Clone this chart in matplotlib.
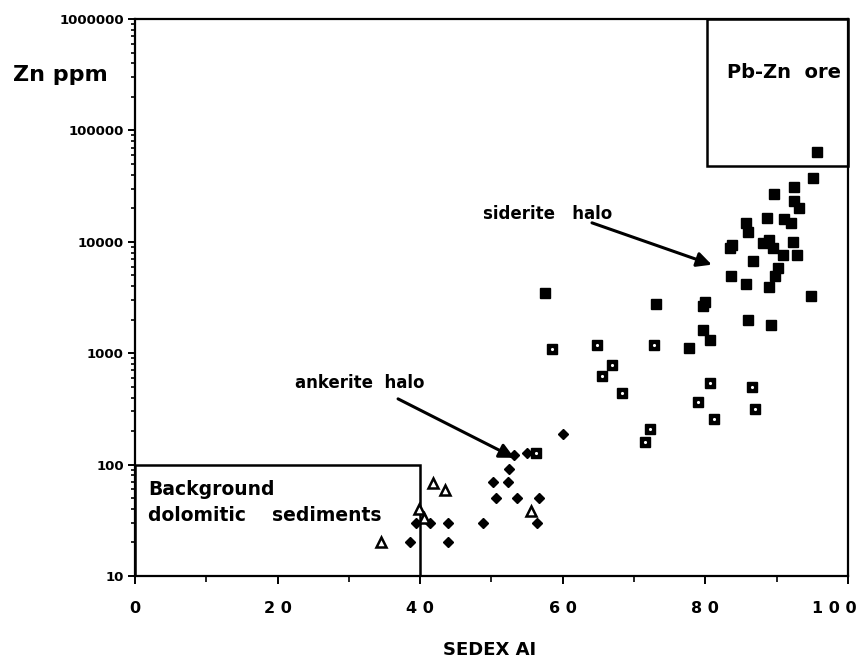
import matplotlib
matplotlib.use("Agg")
import matplotlib.pyplot as plt
from matplotlib.ticker import LogLocator, FixedLocator, NullFormatter, FixedFormatter
from matplotlib.patches import Rectangle
from matplotlib.transforms import ScaledTranslation

# ---- data ----
# siderite halo: filled squares
sid_x = [57.5, 73.1, 77.7, 79.7, 80.6, 80.0, 79.7, 83.6, 85.7, 86.0, 86.7,
         95.6, 95.1, 92.4, 89.6, 92.4, 93.1, 88.6, 91.0, 92.0, 85.7, 86.0,
         92.3, 88.9, 88.1, 83.7, 83.5, 89.5, 90.9, 92.8, 90.2, 89.8, 88.9,
         94.8, 89.2]
sid_y = [3480, 2780, 1120, 1630, 1320, 2900, 2650, 4950, 4200, 2000, 6700,
         64500, 37700, 31300, 27000, 23400, 20200, 16500, 16100, 14800, 14800, 12300,
         10000, 10400, 9800, 9400, 8800, 8800, 7660, 7660, 5850, 4950, 3950,
         3280, 1800]
# patterned squares
pat_x = [58.5, 64.8, 72.8, 66.9, 65.5, 68.3, 56.2, 72.3, 71.5, 80.6, 79.0,
         81.2, 86.5, 87.0]
pat_y = [1100, 1190, 1190, 787, 627, 440, 127, 209, 160, 542, 366,
         257, 500, 316]
# ankerite halo: filled diamonds
ank_x = [38.6, 39.4, 41.4, 43.9, 43.9, 48.8, 56.4, 50.6, 53.6, 56.7, 50.2,
         52.3, 52.5, 53.2, 55.0, 60.0]
ank_y = [20, 30, 30, 30, 20, 30, 30, 50, 50, 50, 70,
         70, 91, 122, 127, 189]
# background dolomite: open triangles
bg_x = [34.5, 39.8, 40.5, 41.8, 43.5, 55.5]
bg_y = [20, 40, 33, 68, 59, 38]

x_ticks = [0, 20, 40, 60, 80, 100]
x_tick_labels = ["0", "2 0", "4 0", "6 0", "8 0", "1 0 0"]
y_ticks = [10, 100, 1000, 10000, 100000, 1000000]
y_tick_labels = ["10", "100", "1000", "10000", "100000", "1000000"]

plt.rcParams['font.family'] = ['DejaVu Sans']
plt.rcParams['font.weight'] = 'bold'

fig = plt.figure(figsize=(8.67, 6.6), dpi=100)
ax = fig.add_axes([0.1557, 0.1273, 0.978 - 0.1557, 0.9712 - 0.1273])
ax.set_yscale('log')
ax.set_xlim(0, 100)
ax.set_ylim(10, 1000000)

for s in ax.spines.values():
    s.set_linewidth(1.6)

# boxes
ax.add_patch(Rectangle((0, 10), 40, 90, fill=False, lw=1.8, ec='k', zorder=3))
ax.add_patch(Rectangle((80.2, 48000), 19.8, 1000000 - 48000, fill=False, lw=1.8,
                       ec='k', zorder=3, clip_on=False))

# points
ax.plot(sid_x, sid_y, 's', ms=7.5, color='k', mec='k', ls='none', zorder=4)
ax.plot(pat_x, pat_y, 's', ms=6.5, color='k', mec='k', ls='none', zorder=4)
ax.plot(pat_x, pat_y, '.', ms=2.5, color='white', ls='none', zorder=5)
ax.plot(ank_x, ank_y, 'D', ms=5.2, color='k', mec='k', ls='none', zorder=4)
ax.plot(bg_x, bg_y, '^', ms=7.5, mfc='white', mec='k', mew=1.8, ls='none', zorder=5)

# ticks
ax.xaxis.set_major_locator(FixedLocator(x_ticks))
ax.xaxis.set_major_formatter(FixedFormatter(x_tick_labels))
ax.xaxis.set_minor_locator(FixedLocator([10, 30, 50, 70, 90]))
ax.yaxis.set_major_locator(FixedLocator(y_ticks))
ax.yaxis.set_major_formatter(FixedFormatter(y_tick_labels))
ax.yaxis.set_minor_locator(LogLocator(base=10, subs=range(2, 10)))
ax.yaxis.set_minor_formatter(NullFormatter())
ax.tick_params(axis='x', which='major', direction='out', length=6, width=1.4,
               labelsize=11.5, pad=12)
ax.tick_params(axis='x', which='minor', direction='out', length=4, width=1.2)
ax.tick_params(axis='y', which='major', direction='out', length=5, width=1.4,
               labelsize=9.5, pad=3)
ax.tick_params(axis='y', which='minor', direction='out', length=3, width=1.2)
for lab in ax.get_xticklabels() + ax.get_yticklabels():
    lab.set_fontweight('bold')
last = ax.get_xticklabels()[-1]
last.set_transform(last.get_transform() + ScaledTranslation(-14 / 100, 0, fig.dpi_scale_trans))

# labels
fig.text(13 / 867, 1 - 75 / 660, "Zn ppm", fontsize=16, fontweight='bold',
         ha='left', va='center')
fig.text(490 / 867, 1 - 650 / 660, "SEDEX AI", fontsize=13, fontweight='bold',
         ha='center', va='center')

# annotations
ax.text(1.8, 60, "Background", fontsize=13.5, fontweight='bold', ha='left', va='center', zorder=6)
ax.text(1.8, 35, "dolomitic    sediments", fontsize=13.5, fontweight='bold', ha='left', va='center', zorder=6)
ax.text(83.0, 330000, "Pb-Zn  ore", fontsize=14, fontweight='bold', ha='left', va='center', zorder=6)
ax.annotate("", xy=(80.9, 6230), xytext=(64.1, 14800),
            arrowprops=dict(arrowstyle='-|>', lw=2.2, color='k', mutation_scale=22,
                            shrinkA=0, shrinkB=0), zorder=6)
ax.text(48.8, 17800, "siderite   halo", fontsize=12, fontweight='bold', ha='left', va='center')
ax.annotate("", xy=(53.2, 115), xytext=(36.9, 389),
            arrowprops=dict(arrowstyle='-|>', lw=2.2, color='k', mutation_scale=22,
                            shrinkA=0, shrinkB=0), zorder=6)
ax.text(22.4, 542, "ankerite  halo", fontsize=12, fontweight='bold', ha='left', va='center')

fig.savefig("out.png", dpi=100)
